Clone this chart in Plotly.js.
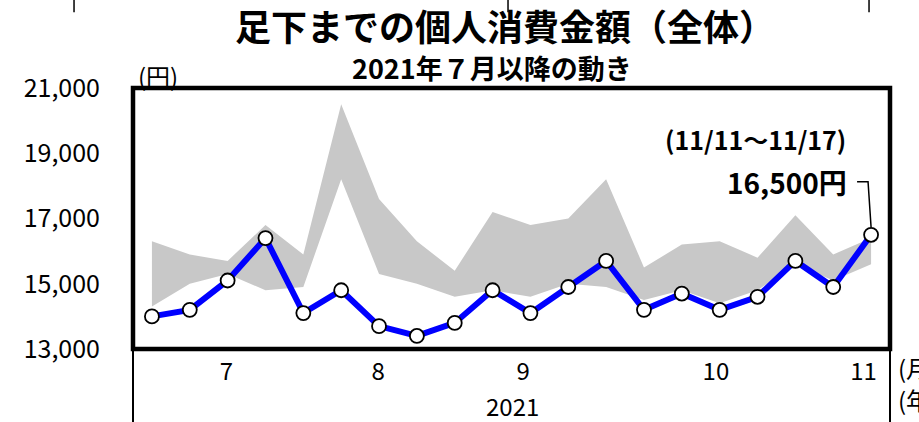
<!DOCTYPE html>
<html>
<head>
<meta charset="utf-8">
<script src="https://cdn.plot.ly/plotly-3.0.1.min.js"></script>
<style>html,body{margin:0;padding:0;background:#fff;}#chart{width:919px;height:422px;}</style>
</head>
<body>
<div id="chart"></div>
<script>
// Weekly periods (start date of each week), 2021-07 to 2021-11
const weekStart = ["7/1","7/8","7/15","7/22","7/29","8/5","8/12","8/19","8/26","9/2",
                   "9/9","9/16","9/23","9/30","10/7","10/14","10/21","10/28","11/4","11/11"];
// Personal spending amount (yen), 2021
const spending = [14000,14200,15100,16400,14100,14800,13700,13400,13800,14800,
                  14100,14900,15700,14200,14700,14200,14600,15700,14900,16500];
// Reference band (gray): low and high
const bandLow  = [14300,15000,15300,14800,14900,18200,15300,15000,14600,14800,
                  14600,15000,14900,14500,14800,14400,14800,15600,15100,15600];
const bandHigh = [16300,15900,15700,16800,15900,20500,17600,16300,15400,17200,
                  16800,17000,18200,15500,16200,16300,15800,17100,15900,16400];
// Month tick labels
const monthLabels = ["7","8","9","10","11"];
const monthPos = [1.97, 5.98, 9.81, 14.9, 18.8];
// Y ticks
const yTickVals = [13000,15000,17000,19000,21000];

const FONT = "'Noto Sans CJK JP', 'Noto Sans', sans-serif";
const xs = weekStart.map((_, i) => i);
const lastIdx = spending.length - 1;
const lastVal = spending[lastIdx];

const traces = [
  {x: xs, y: bandLow, type: 'scatter', mode: 'lines', line: {width: 0, color: 'rgba(0,0,0,0)'},
   hoverinfo: 'skip', showlegend: false},
  {x: xs, y: bandHigh, type: 'scatter', mode: 'lines', line: {width: 0, color: 'rgba(0,0,0,0)'},
   fill: 'tonexty', fillcolor: '#c8c8c8', hoverinfo: 'skip', showlegend: false},
  {x: xs, y: spending, text: weekStart, type: 'scatter', mode: 'lines+markers',
   line: {color: '#0000ff', width: 6},
   marker: {size: 14, color: '#ffffff', line: {color: '#000000', width: 1.8}},
   showlegend: false}
];

const layout = {
  width: 919, height: 422,
  margin: {l: 133, r: 29, t: 88, b: 73, pad: 0},
  paper_bgcolor: '#ffffff', plot_bgcolor: '#ffffff',
  font: {family: FONT, color: '#000000'},
  hovermode: false,
  title: {text: '足下までの個人消費金額（全体）', x: 505/919, xanchor: 'center', y: 1 - 28/422, yanchor: 'middle',
          font: {family: FONT, size: 36, color: '#000', weight: 'bold'}},
  xaxis: {range: [-0.5, 19.5], showgrid: false, zeroline: false, showline: false,
          tickmode: 'array', tickvals: monthPos, ticktext: monthLabels, ticks: '',
          tickfont: {family: FONT, size: 24, color: '#000'}, ticklabelstandoff: 6},
  yaxis: {range: [13000, 21000], showgrid: false, zeroline: false, showline: false,
          tickmode: 'array', tickvals: yTickVals, tickformat: ',d', ticks: '',
          tickfont: {family: FONT, size: 25, color: '#000'}, ticklabelstandoff: 32},
  shapes: [
    {type: 'rect', xref: 'paper', yref: 'paper', x0: 0, x1: 1, y0: 0, y1: 1,
     line: {color: '#000', width: 4.5}, layer: 'above'},
    {type: 'line', xref: 'paper', yref: 'paper', x0: 0, x1: 0, y0: 0, y1: -0.3, line: {color: '#000', width: 2}},
    {type: 'line', xref: 'paper', yref: 'paper', x0: 1, x1: 1, y0: 0, y1: -0.3, line: {color: '#000', width: 2}},
    // remnants of the chart above
    {type: 'line', xref: 'paper', yref: 'paper', x0: -0.0779, x1: -0.0779, y0: 1.34, y1: 1.29, line: {color: '#000', width: 1.5}},
    {type: 'line', xref: 'paper', yref: 'paper', x0: 0.4954, x1: 0.4954, y0: 1.34, y1: 1.29, line: {color: '#000', width: 1.5}},
    {type: 'line', xref: 'paper', yref: 'paper', x0: 0.9723, x1: 0.9723, y0: 1.34, y1: 1.29, line: {color: '#000', width: 1.5}},
    // leader line to the last point
    {type: 'path', xref: 'x', yref: 'y', layer: 'above',
     path: `M ${lastIdx - 0.37},${lastVal + 1630} L ${lastIdx - 0.08},${lastVal + 1630} L ${lastIdx},${lastVal + 230}`,
     line: {color: '#000', width: 1.5}}
  ],
  annotations: [
    {text: '2021年７月以降の動き', xref: 'paper', yref: 'paper', x: 0.474, y: 1.0803, xanchor: 'center', yanchor: 'middle',
     showarrow: false, font: {family: FONT, size: 27, color: '#000', weight: 'bold'}},
    {text: '(円)', xref: 'paper', yref: 'paper', x: 0.033, y: 1.046, xanchor: 'center', yanchor: 'middle',
     showarrow: false, font: {family: FONT, size: 24, color: '#000'}},
    {text: '(11/11～11/17)', xref: 'paper', yref: 'paper', x: 0.8217, y: 0.805, xanchor: 'center', yanchor: 'middle',
     showarrow: false, font: {family: FONT, size: 25, color: '#000', weight: 'bold'}},
    {text: lastVal.toLocaleString('en-US') + '円', xref: 'paper', yref: 'paper', x: 0.864, y: 0.6405, xanchor: 'center', yanchor: 'middle',
     showarrow: false, font: {family: FONT, size: 28, color: '#000', weight: 'bold'}},
    {text: '2021', xref: 'paper', yref: 'paper', x: 0.5007, y: -0.215, xanchor: 'center', yanchor: 'middle',
     showarrow: false, font: {family: FONT, size: 24, color: '#000'}},
    {text: '(月)', xref: 'paper', yref: 'paper', x: 1.0079, y: -0.0707, xanchor: 'left', yanchor: 'middle',
     showarrow: false, font: {family: FONT, size: 24, color: '#000'}},
    {text: '(年)', xref: 'paper', yref: 'paper', x: 1.0079, y: -0.193, xanchor: 'left', yanchor: 'middle',
     showarrow: false, font: {family: FONT, size: 24, color: '#000'}},
    {text: '2020', xref: 'paper', yref: 'paper', x: 0.21, y: 1.376, xanchor: 'center', yanchor: 'middle',
     showarrow: false, font: {family: FONT, size: 24, color: '#000'}},
    {text: '2021', xref: 'paper', yref: 'paper', x: 0.7305, y: 1.376, xanchor: 'center', yanchor: 'middle',
     showarrow: false, font: {family: FONT, size: 24, color: '#000'}}
  ]
};

Plotly.newPlot('chart', traces, layout, {displayModeBar: false, staticPlot: true});
</script>
</body>
</html>
